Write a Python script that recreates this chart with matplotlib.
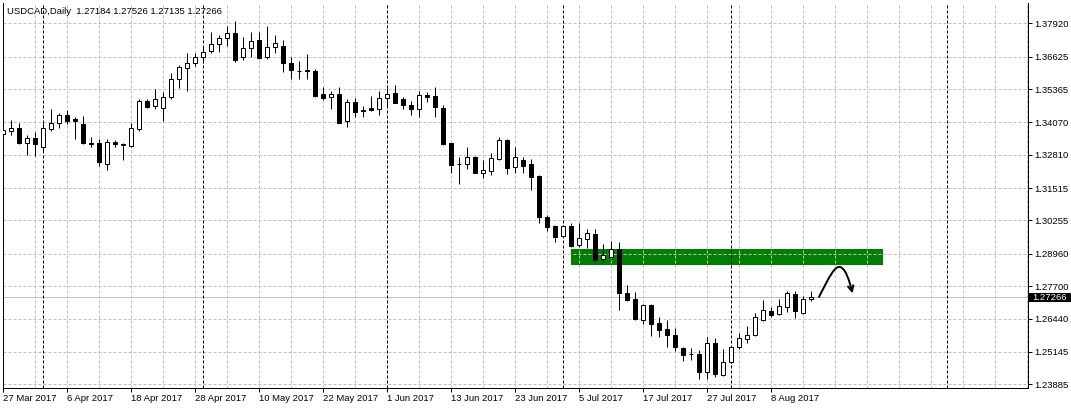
import matplotlib
matplotlib.use("Agg")
import matplotlib.pyplot as plt
import matplotlib.transforms as mtransforms
from matplotlib.patches import Rectangle, FancyArrowPatch
from matplotlib.path import Path

plt.rcParams['font.family'] = ['Liberation Sans', 'DejaVu Sans']

# chart header
symbol = "USDCAD,Daily"
last_ohlc = [1.27184, 1.27526, 1.27135, 1.27266]

# daily candles, one per weekday starting 27 Mar 2017
opens = [1.33616, 1.33744, 1.33849, 1.33254, 1.33461, 1.33099, 1.33799, 1.34032, 1.34343, 1.34188,
         1.33993, 1.33266, 1.33254, 1.32438, 1.33305, 1.33200, 1.33161, 1.33799, 1.34887, 1.34716,
         1.34615, 1.35043, 1.35743, 1.36170, 1.36365, 1.36598, 1.36831, 1.37104, 1.37349, 1.37531,
         1.36598, 1.36948, 1.37259, 1.36598, 1.37010, 1.37038, 1.36365, 1.36073, 1.36085, 1.36066,
         1.35160, 1.35043, 1.35160, 1.34110, 1.34849, 1.34537, 1.34627, 1.34600, 1.35004, 1.35210,
         1.34965, 1.34732, 1.34576, 1.35132, 1.35082, 1.34615, 1.33254, 1.32457, 1.32461, 1.32722,
         1.32088, 1.32189, 1.32644, 1.33394, 1.32321, 1.32594, 1.32438, 1.31983, 1.30389, 1.30039,
         1.29662, 1.30039, 1.29308, 1.29545, 1.29728, 1.28744, 1.28846, 1.29145, 1.27446, 1.27201,
         1.26384, 1.26968, 1.26256, 1.26034, 1.25801, 1.25296, 1.25062, 1.25062, 1.24374, 1.25478,
         1.24258, 1.24740, 1.25323, 1.25634, 1.25790, 1.26384, 1.26734, 1.26606, 1.26902, 1.27395,
         1.26645, 1.27184]
highs = [1.34055, 1.34160, 1.34055, 1.33577, 1.33694, 1.34032, 1.34600, 1.34444, 1.34549, 1.34265,
         1.34316, 1.33511, 1.33410, 1.33410, 1.33383, 1.33254, 1.34032, 1.34965, 1.34989, 1.35354,
         1.35261, 1.35976, 1.36299, 1.36754, 1.36754, 1.37038, 1.37582, 1.37454, 1.37815, 1.37998,
         1.37376, 1.37582, 1.37570, 1.37815, 1.37454, 1.37271, 1.36622, 1.36443, 1.36715, 1.36132,
         1.35432, 1.35300, 1.35432, 1.34965, 1.35004, 1.34705, 1.35094, 1.35288, 1.35416, 1.35510,
         1.35043, 1.34887, 1.35288, 1.35249, 1.35443, 1.34744, 1.33278, 1.32710, 1.33099, 1.32749,
         1.32605, 1.32889, 1.33499, 1.33422, 1.33099, 1.32710, 1.32632, 1.32010, 1.30478, 1.30078,
         1.30090, 1.30156, 1.30148, 1.29922, 1.29922, 1.29339, 1.29456, 1.29405, 1.27734, 1.27473,
         1.27006, 1.27006, 1.26489, 1.26384, 1.26062, 1.25346, 1.25296, 1.25218, 1.25735, 1.25673,
         1.25269, 1.25346, 1.25867, 1.26151, 1.26645, 1.27161, 1.26878, 1.27201, 1.27524, 1.27524,
         1.27318, 1.27526]
lows = [1.33227, 1.33577, 1.33227, 1.32800, 1.32772, 1.32928, 1.33733, 1.33849, 1.33993, 1.33433,
        1.33240, 1.33122, 1.32384, 1.32228, 1.33122, 1.32617, 1.33122, 1.33744, 1.34627, 1.34600,
        1.34133, 1.34989, 1.35405, 1.35300, 1.36272, 1.36365, 1.36777, 1.36804, 1.37038, 1.36404,
        1.36493, 1.36598, 1.36520, 1.36544, 1.36754, 1.36038, 1.35766, 1.35754, 1.35743, 1.35066,
        1.34938, 1.34576, 1.34032, 1.33900, 1.34289, 1.34289, 1.34522, 1.34355, 1.34677, 1.34810,
        1.34600, 1.34366, 1.34289, 1.34872, 1.34258, 1.33188, 1.32111, 1.31660, 1.32267, 1.32100,
        1.31917, 1.32034, 1.32605, 1.32073, 1.32111, 1.32111, 1.31450, 1.30144, 1.29856, 1.29417,
        1.29623, 1.29234, 1.29242, 1.29184, 1.28690, 1.28690, 1.28822, 1.26773, 1.27135, 1.26384,
        1.26229, 1.25762, 1.25735, 1.25346, 1.25179, 1.24802, 1.24828, 1.24102, 1.24102, 1.24157,
        1.24219, 1.24701, 1.25269, 1.25502, 1.25762, 1.26346, 1.26489, 1.26579, 1.26707, 1.26474,
        1.26618, 1.27135]
closes = [1.33772, 1.33849, 1.33278, 1.33461, 1.33216, 1.33849, 1.34032, 1.34343, 1.34133, 1.34110,
          1.33254, 1.33239, 1.32539, 1.33293, 1.33216, 1.33208, 1.33838, 1.34911, 1.34677, 1.34989,
          1.35043, 1.35743, 1.36209, 1.36365, 1.36598, 1.36816, 1.37115, 1.37337, 1.37531, 1.36493,
          1.36948, 1.37220, 1.36571, 1.36987, 1.37142, 1.36365, 1.36093, 1.36058, 1.36069, 1.35105,
          1.35027, 1.35160, 1.34055, 1.34849, 1.34483, 1.34502, 1.34549, 1.35004, 1.35160, 1.34833,
          1.34755, 1.34576, 1.35121, 1.35055, 1.34677, 1.33227, 1.32422, 1.32438, 1.32710, 1.32111,
          1.32205, 1.32671, 1.33371, 1.32306, 1.32710, 1.32384, 1.31956, 1.30377, 1.30012, 1.29623,
          1.30039, 1.29273, 1.29565, 1.29755, 1.28717, 1.28912, 1.29145, 1.27446, 1.27162, 1.26423,
          1.26968, 1.26229, 1.25995, 1.25801, 1.25346, 1.25035, 1.25050, 1.24374, 1.25478, 1.24285,
          1.24740, 1.25323, 1.25685, 1.25801, 1.26489, 1.26772, 1.26590, 1.26929, 1.27422, 1.26746,
          1.27201, 1.27266]

date_labels = ["27 Mar 2017", "6 Apr 2017", "18 Apr 2017", "28 Apr 2017", "10 May 2017",
               "22 May 2017", "1 Jun 2017", "13 Jun 2017", "23 Jun 2017", "5 Jul 2017",
               "17 Jul 2017", "27 Jul 2017", "8 Aug 2017"]
date_label_bars = [0, 8, 16, 24, 32, 40, 48, 56, 64, 72, 80, 88, 96]
month_start_bars = [5, 25, 48, 70, 91, 118]

price_ticks = [1.37920, 1.36625, 1.35365, 1.34070, 1.32810, 1.31515, 1.30255,
               1.28960, 1.27700, 1.26440, 1.25145, 1.23885]

# resistance zone drawn on the chart
zone_bars = [71, 110]
zone_prices = [1.28521, 1.29126]

# hand drawn arrow (bar, price)
arrow_x = [102.0, 103.3, 104.0, 104.7, 105.4, 105.8, 106.2]
arrow_y = [1.2728, 1.2808, 1.2852, 1.2844, 1.2834, 1.2790, 1.2742]

W, H = 1071, 409
fs = 6.8
fig = plt.figure(figsize=(W / 100, H / 100), dpi=100)
ax = fig.add_axes([3 / W, 21 / H, 1025 / W, 385 / H])
ax.set_xlim(0, 1025 / 8)
ax.set_ylim(1.23741, 1.38709)

grid_col = '#c0c0c0'
px = 0.72

# grid
for b in range(4, 129, 4):
    ax.axvline(b, color=grid_col, lw=px, ls=(0, (3, 2)), zorder=2)
for p in price_ticks:
    ax.axhline(p, color=grid_col, lw=px, ls=(0, (3, 2)), zorder=2)
for b in month_start_bars:
    ax.axvline(b, color='black', lw=px, ls=(0, (3, 2)), zorder=2)

# current price line
ax.axhline(last_ohlc[3], color=grid_col, lw=px, zorder=1.5)

# zone
ax.add_patch(Rectangle((zone_bars[0], zone_prices[0]), zone_bars[1] - zone_bars[0],
                       zone_prices[1] - zone_prices[0], facecolor='#008000', edgecolor='none',
                       zorder=1))

# candles
bars = list(range(len(opens)))
ax.vlines(bars, lows, highs, color='black', lw=px, zorder=3)
bottoms = [min(o, c) for o, c in zip(opens, closes)]
heights = [max(abs(c - o), 0.00004) for o, c in zip(opens, closes)]
fills = ['white' if c >= o else 'black' for o, c in zip(opens, closes)]
ax.bar(bars, heights, bottom=bottoms, width=0.6, color=fills, edgecolor='black',
       linewidth=px, zorder=4)

# arrow
verts = list(zip(arrow_x, arrow_y))
codes = [Path.MOVETO] + [Path.CURVE4] * 6
arrow = FancyArrowPatch(path=Path(verts, codes), arrowstyle='->', mutation_scale=10,
                        lw=1.4, color='black', transform=ax.transData, zorder=5)
ax.add_patch(arrow)

# axes styling
for side in ['left', 'bottom', 'right']:
    ax.spines[side].set_color('black')
    ax.spines[side].set_linewidth(px)
ax.spines['top'].set_visible(False)

ax.yaxis.tick_right()
ax.set_yticks(price_ticks)
ax.set_yticklabels([f"{p:.5f}" for p in price_ticks])
ax.tick_params(axis='y', direction='out', length=3, width=px, pad=1.5, labelsize=fs)
ax.set_xticks(date_label_bars)
ax.set_xticklabels(date_labels, ha='left')
ax.tick_params(axis='x', direction='out', length=3, width=px, pad=1.5, labelsize=fs)

# current price box on the price scale
tr = mtransforms.blended_transform_factory(fig.transFigure, ax.transData)
ax.add_patch(Rectangle((1029 / W, last_ohlc[3] - 0.00175), 42 / W, 0.0035, transform=tr,
                       facecolor='black', edgecolor='none', clip_on=False, zorder=6))
ax.text(1032 / W, last_ohlc[3], f"{last_ohlc[3]:.5f}", transform=tr, color='white',
        fontsize=fs, va='center', ha='left', clip_on=False, zorder=7)

header = symbol + "  " + " ".join(f"{v:.5f}" for v in last_ohlc)
fig.text(7 / W, 1 - 11 / H, header, fontsize=fs, va='center', ha='left')

fig.savefig("out.png", dpi=100)
